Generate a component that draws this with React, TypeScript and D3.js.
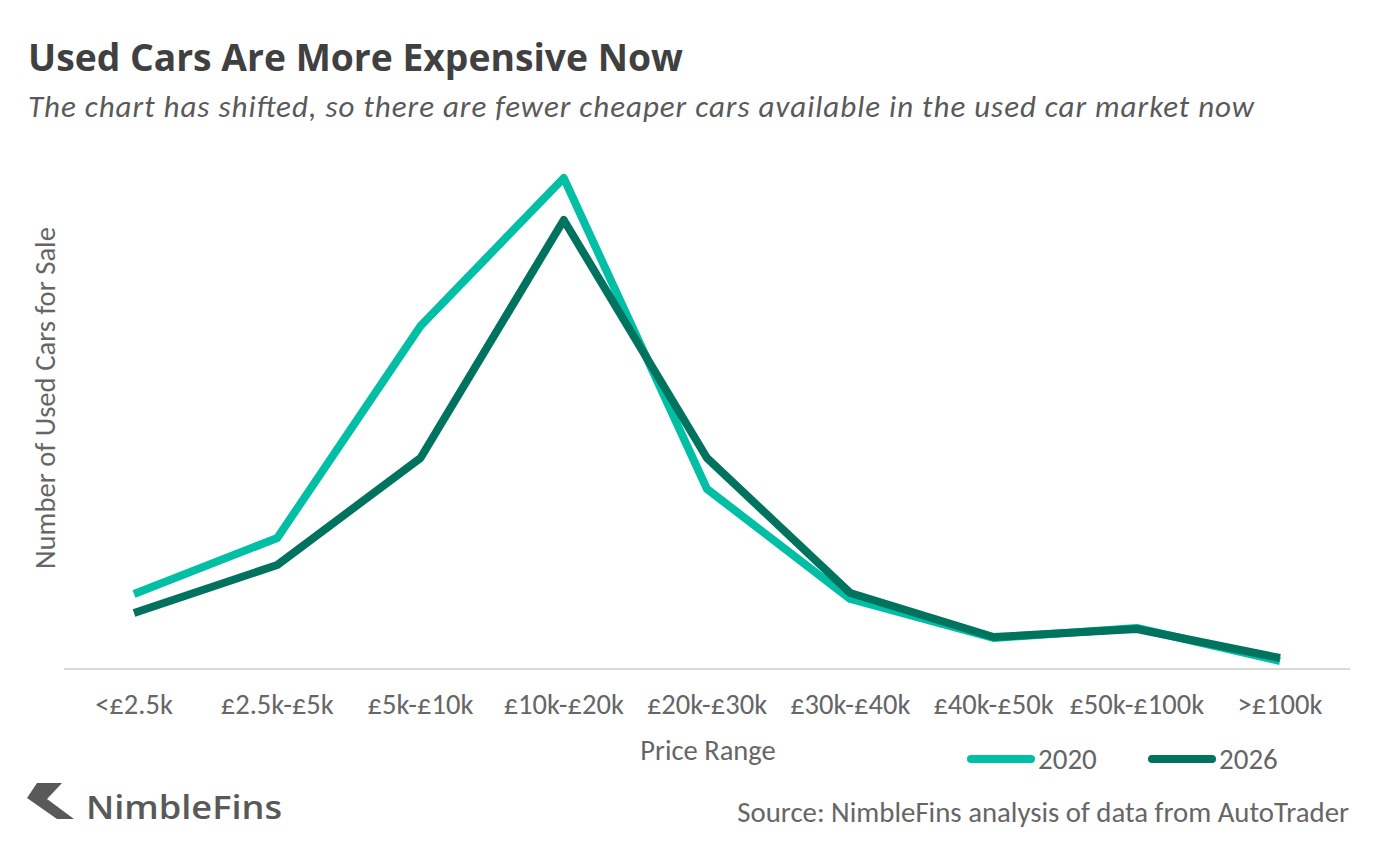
import * as d3 from "d3"

const categories = ["<£2.5k", "£2.5k-£5k", "£5k-£10k", "£10k-£20k", "£20k-£30k", "£30k-£40k", "£40k-£50k", "£50k-£100k", ">£100k"]
const values2020 = [75, 131, 343, 491, 180, 70, 31, 41, 8]
const values2026 = [56, 104, 211, 449, 211, 76, 32, 40, 11]
const years = ["2020", "2026"]
const colors = ["#00bfa5", "#00735f"]

const font = "Carlito, Lato, sans-serif"
const grey = "#666666"

export default function App() {
  const x = d3.scalePoint().domain(categories).range([134, 1280])
  const y = d3.scaleLinear().domain([0, 500]).range([669, 169])
  const line = d3
    .line<number>()
    .x((_, i) => x(categories[i]) as number)
    .y((d) => y(d))

  return (
    <svg width={1400} height={852} style={{ position: "absolute", left: 0, top: 0, background: "#fff" }} fontFamily={font}>
      <text x={28} y={71} fontSize={37} fontWeight={700} fontFamily="'Open Sans', sans-serif" fill="#404040" textLength={655} lengthAdjust="spacingAndGlyphs">Used Cars Are More Expensive Now</text>
      <text x={28} y={117} fontSize={31} fontStyle="italic" fill="#595959" textLength={1226} lengthAdjust="spacing">The chart has shifted, so there are fewer cheaper cars available in the used car market now</text>

      <line x1={64} x2={1350} y1={y(0)} y2={y(0)} stroke="#d9d9d9" strokeWidth={2} />
      {categories.map((c) => (
        <text key={c} x={x(c)} y={714} textAnchor="middle" fontSize={28.5} fill={grey}>{c}</text>
      ))}
      <text x={708} y={760} textAnchor="middle" fontSize={28.5} fill={grey}>Price Range</text>
      <text transform="translate(55,398) rotate(-90)" textAnchor="middle" fontSize={28.7} fill={grey}>Number of Used Cars for Sale</text>

      <path d={line(values2020) ?? ""} fill="none" stroke={colors[0]} strokeWidth={8} strokeLinejoin="round" />
      <path d={line(values2026) ?? ""} fill="none" stroke={colors[1]} strokeWidth={8} strokeLinejoin="round" />

      {years.map((yr, i) => (
        <g key={yr} transform={`translate(${971 + i * 181},759)`}>
          <line x1={0} x2={60} y1={0} y2={0} stroke={colors[i]} strokeWidth={8} strokeLinecap="round" />
          <text x={67} y={10} fontSize={29} fill={grey}>{yr}</text>
        </g>
      ))}

      <path d="M27,798 L37,783 L62,783 L47,799 L74,819 L57,819 Z" fill="#595959" />
      <text x={86} y={819} fontSize={33} fontWeight={600} fontFamily="'Open Sans', sans-serif" fill="#595959" textLength={196} lengthAdjust="spacingAndGlyphs">NimbleFins</text>
      <text x={1349} y={822} textAnchor="end" fontSize={28.8} fill={grey}>Source: NimbleFins analysis of data from AutoTrader</text>
    </svg>
  )
}
